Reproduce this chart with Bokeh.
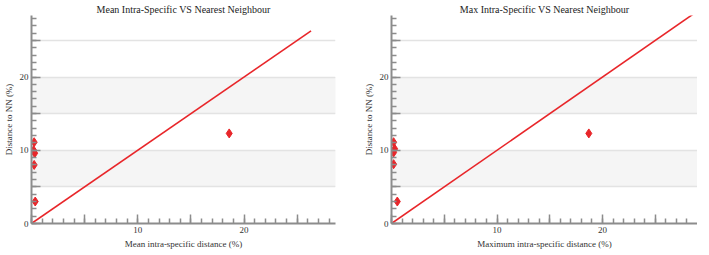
from bokeh.plotting import figure
from bokeh.layouts import row
from bokeh.models import FixedTicker
from bokeh.embed import file_html
from bokeh.resources import INLINE

# ---- data ----
mean_x = [0.25, 0.2, 0.3, 0.25, 0.35, 18.6]
mean_y = [11.1, 10.0, 9.6, 8.0, 3.0, 12.3]
max_x = [0.2, 0.3, 0.2, 0.2, 0.55, 18.7]
max_y = [11.1, 10.2, 9.7, 8.1, 3.0, 12.3]
line1_x = [0, 26.3]
line2_x = [0, 30]
band_bottom = [5, 15]
band_top = [10, 20]
grid_vals = [5, 10, 15, 20, 25]
major_vals = [0, 5, 10, 15, 20, 25]
minor_vals = list(range(0, 29))
titles = ["Mean Intra-Specific VS Nearest Neighbour", "Max Intra-Specific VS Nearest Neighbour"]
xlabels = ["Mean intra-specific distance (%)", "Maximum intra-specific distance (%)"]
ylabel = "Distance to NN (%)"

FONT = "Liberation Serif"
AX = "#8c8c8c"
RED = "#e8262a"


def make(title, xlabel, xs, ys, lx, xmax, fw, bl, br):
    p = figure(frame_width=fw, frame_height=208, output_backend="svg", toolbar_location=None,
               x_range=(0, xmax), y_range=(0, 28.4),
               min_border_left=bl, min_border_right=br, min_border_top=4, min_border_bottom=2)
    p.outline_line_color = None
    p.background_fill_color = "white"
    p.title.text = title
    p.title.align = "center"
    p.title.text_font = FONT
    p.title.text_font_size = "10px"
    p.title.text_font_style = "normal"
    p.title.text_color = "#222222"
    p.title.standoff = 2

    p.xgrid.visible = False
    p.ygrid.ticker = FixedTicker(ticks=grid_vals)
    p.ygrid.grid_line_color = "#e3e3e3"
    p.ygrid.grid_line_width = 1.5

    p.quad(left=0, right=40, bottom=band_bottom, top=band_top, fill_color="#f5f5f5",
           line_color=None, level="underlay")

    for ax, lab_over in ((p.xaxis[0], {0: "", 5: "", 15: "", 25: ""}), (p.yaxis[0], {5: "", 15: "", 25: ""})):
        ax.ticker = FixedTicker(ticks=major_vals, minor_ticks=minor_vals)
        ax.major_label_overrides = lab_over
        ax.axis_line_color = AX
        ax.axis_line_width = 2
        ax.major_tick_line_color = AX
        ax.minor_tick_line_color = AX
        ax.major_tick_line_width = 1.5
        ax.minor_tick_line_width = 1.5
        ax.major_tick_in = 9
        ax.major_tick_out = 0
        ax.minor_tick_in = 5
        ax.minor_tick_out = 0
        ax.major_label_text_font = FONT
        ax.major_label_text_font_size = "9px"
        ax.major_label_text_color = "#333333"
        ax.major_label_standoff = 3
        ax.axis_label_text_font = FONT
        ax.axis_label_text_font_size = "9px"
        ax.axis_label_text_font_style = "normal"
        ax.axis_label_text_color = "#333333"
        ax.axis_label_standoff = 3
    p.xaxis.axis_label = xlabel
    p.yaxis.axis_label = ylabel

    p.line(lx, lx, line_color=RED, line_width=1.6)
    p.scatter(xs, ys, marker="diamond", size=9, fill_color=RED, line_color=RED)
    return p


p1 = make(titles[0], xlabels[0], mean_x, mean_y, line1_x, 28.6, 304, 27, 14)
p2 = make(titles[1], xlabels[1], max_x, max_y, line2_x, 29.0, 306, 42, 0)
layout = row(p1, p2)

open("out.html", "w").write(file_html(layout, INLINE))
